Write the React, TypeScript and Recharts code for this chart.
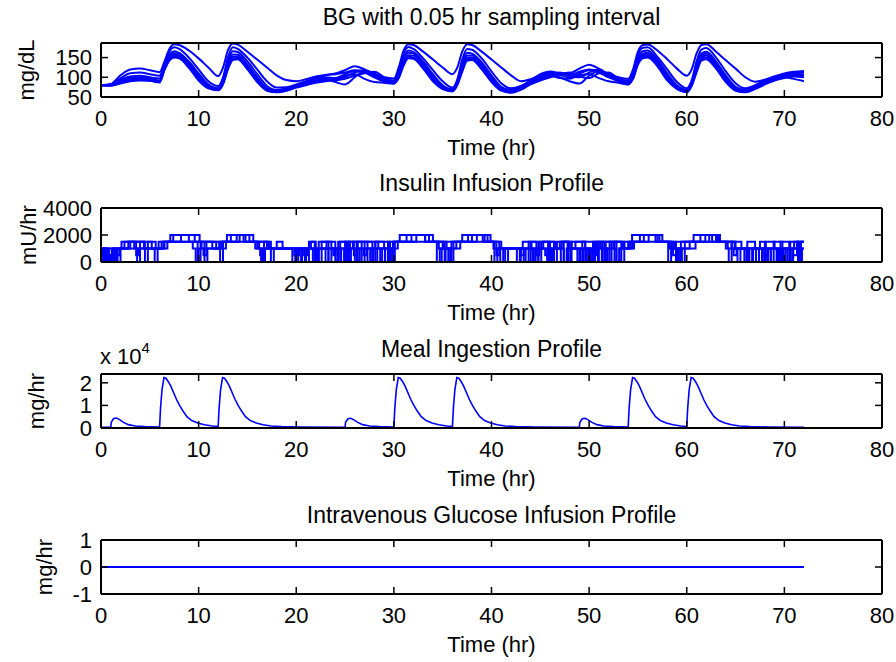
import React from 'react';
import { LineChart, Line, XAxis, YAxis } from 'recharts';

const FONT = '"Liberation Sans", Arial, Helvetica, sans-serif';
const BLUE = '#0000ff';

const timeTicks = [0, 10, 20, 30, 40, 50, 60, 70, 80];
const bgTicks = [50, 100, 150];
const insulinTicks = [0, 2000, 4000];
const mealTicks = [0, 10000, 20000];
const ivTicks = [-1, 0, 1];

// BG sampling grid (hr)
const bgTime = [
  0, 1, 2, 3, 4, 5, 6, 6.5, 7, 7.5, 8, 9, 10, 11, 12, 12.5, 13, 13.5, 14, 15, 16, 17, 18, 19, 20, 21, 22, 23,
  24, 25, 26, 27, 28, 29, 30, 30.5, 31, 31.5, 32, 33, 34, 35, 36, 36.5, 37, 37.5, 38, 39, 40, 41, 42, 43, 44, 45, 46, 47,
  48, 49, 50, 51, 52, 53, 54, 54.5, 55, 55.5, 56, 57, 58, 59, 60, 60.5, 61, 61.5, 62, 63, 64, 65, 66, 67, 68, 69, 70, 71,
  72,
];

const bg1 = [
  80, 83, 105, 120, 122, 118, 113, 140, 172, 184, 182, 168, 148, 125, 103, 125, 168, 186, 183, 165, 145, 125, 105, 93, 90, 95, 102, 106,
  110, 118, 128, 120, 108, 100, 97, 125, 168, 184, 182, 165, 145, 125, 108, 125, 165, 184, 182, 165, 145, 125, 105, 90, 95, 105, 112, 108,
  110, 122, 132, 122, 108, 100, 96, 120, 165, 182, 183, 168, 146, 122, 104, 120, 160, 182, 184, 165, 143, 122, 100, 89, 94, 102, 108, 112,
  114,
];
const bg2 = [
  80, 82, 98, 110, 112, 108, 104, 135, 165, 176, 172, 150, 120, 90, 78, 100, 150, 176, 172, 150, 120, 90, 74, 75, 82, 90, 98, 105,
  108, 112, 118, 115, 105, 95, 92, 118, 160, 177, 172, 148, 118, 90, 74, 95, 145, 172, 170, 148, 115, 85, 72, 78, 92, 108, 115, 110,
  106, 114, 120, 116, 104, 96, 92, 115, 158, 175, 176, 152, 120, 88, 72, 92, 140, 170, 174, 150, 115, 85, 72, 80, 92, 102, 110, 114,
  116,
];
const bg3 = [
  80, 81, 94, 102, 104, 100, 97, 130, 158, 166, 162, 140, 110, 82, 72, 92, 140, 166, 164, 140, 108, 78, 68, 72, 80, 88, 96, 100,
  98, 108, 116, 112, 100, 90, 88, 112, 150, 168, 164, 140, 108, 80, 70, 90, 135, 162, 160, 138, 105, 76, 68, 76, 90, 104, 112, 106,
  100, 110, 118, 112, 100, 92, 88, 110, 150, 166, 168, 145, 110, 80, 68, 88, 132, 160, 165, 140, 105, 76, 68, 78, 90, 100, 106, 110,
  112,
];
const bg4 = [
  80, 80, 90, 98, 100, 97, 92, 125, 152, 161, 158, 135, 104, 78, 70, 88, 132, 158, 157, 132, 100, 72, 65, 70, 78, 86, 92, 96,
  88, 82, 100, 116, 104, 92, 86, 108, 145, 162, 160, 135, 102, 76, 67, 86, 128, 155, 155, 132, 100, 72, 64, 74, 88, 100, 108, 100,
  90, 84, 104, 116, 102, 90, 85, 106, 145, 160, 162, 140, 105, 76, 65, 84, 126, 155, 160, 135, 100, 72, 65, 76, 88, 98, 104, 106,
  108,
];
const bg5 = [
  80, 80, 88, 95, 97, 95, 90, 122, 148, 157, 155, 132, 100, 75, 69, 86, 128, 152, 152, 128, 96, 70, 64, 68, 76, 84, 90, 94,
  96, 104, 108, 96, 88, 86, 84, 104, 140, 156, 155, 130, 98, 74, 66, 84, 122, 150, 150, 128, 96, 70, 63, 72, 86, 98, 104, 98,
  96, 106, 108, 98, 90, 86, 82, 102, 140, 156, 158, 136, 100, 74, 64, 82, 120, 150, 155, 130, 96, 70, 64, 74, 86, 96, 100, 96,
  90,
];
const bg6 = [
  80, 79, 86, 92, 94, 92, 88, 120, 145, 154, 152, 128, 96, 73, 68, 84, 124, 148, 149, 124, 92, 68, 63, 67, 75, 82, 88, 92,
  94, 100, 112, 118, 110, 96, 84, 100, 135, 152, 150, 125, 94, 72, 65, 82, 118, 146, 147, 124, 92, 68, 62, 70, 84, 95, 106, 112,
  104, 100, 112, 120, 106, 92, 82, 98, 136, 152, 154, 132, 96, 72, 63, 80, 116, 146, 150, 126, 92, 68, 63, 72, 84, 94, 102, 106,
  104,
];
const bg7 = [
  80, 79, 84, 90, 92, 91, 87, 118, 142, 150, 148, 124, 92, 72, 67, 82, 120, 144, 146, 120, 88, 66, 62, 66, 74, 80, 86, 90,
  92, 96, 104, 110, 114, 100, 86, 98, 130, 148, 147, 122, 90, 70, 64, 80, 114, 142, 144, 120, 88, 66, 61, 68, 82, 92, 100, 108,
  112, 102, 98, 110, 112, 96, 84, 96, 132, 148, 150, 128, 92, 70, 62, 78, 112, 142, 146, 122, 88, 66, 62, 70, 82, 92, 98, 102,
  100,
];
const bgSeries = [bg1, bg2, bg3, bg4, bg5, bg6, bg7];

// Insulin infusion (mU/hr), [time, rate] step change points
const insulin1: [number, number][] = [
  [0, 1000], [0.4, 0], [0.8, 1000], [1.3, 0], [1.7, 1000], [2.1, 1500], [4.4, 1000], [4.8, 1500], [5.6, 1000], [6.2, 1500],
  [7.1, 2000], [10.1, 1500], [11.4, 1000], [12.1, 1500], [12.9, 2000], [15.6, 1500], [17.2, 1000], [18.0, 1500], [18.6, 1000],
  [20.2, 0], [20.5, 1000], [21.3, 1500], [22.0, 0], [22.3, 1500], [23.6, 1000], [24.3, 1500], [25.1, 0], [25.4, 1500], [26.7, 0],
  [27.0, 1500], [28.4, 1000], [29.1, 0], [29.4, 1500], [30.6, 2000], [34.0, 1500], [35.1, 1000], [35.6, 0], [35.9, 1500],
  [37.0, 2000], [39.9, 1500], [40.8, 1000], [42.6, 0], [42.9, 1000], [43.8, 1500], [44.8, 0], [45.1, 1500], [46.4, 0], [46.7, 1500],
  [48.2, 1000], [49.0, 0], [49.3, 1500], [50.6, 0], [50.9, 1500], [52.3, 0], [52.6, 1500], [53.6, 1000], [54.4, 2000], [57.5, 1500],
  [58.4, 1000], [59.1, 0], [59.4, 1500], [60.7, 2000], [63.4, 1500], [64.6, 1000], [66.8, 0], [67.1, 1000], [68.6, 0], [68.9, 1500],
  [69.8, 0], [70.1, 1000], [70.9, 500], [71.3, 1500], [72, 1500],
];
const insulin2: [number, number][] = [
  [0, 1000], [0.2, 0], [0.5, 500], [0.9, 0], [1.2, 1000], [1.6, 0], [2.0, 1000], [3.0, 1500], [5.2, 1000], [5.5, 0], [5.8, 1000],
  [6.4, 1500], [8.2, 2000], [9.6, 1500], [9.9, 0], [10.2, 1500], [11.8, 1000], [12.2, 0], [12.5, 1500], [14.2, 2000], [15.2, 1500],
  [16.0, 1000], [16.4, 0], [16.7, 1500], [17.4, 1000], [20.0, 500], [20.3, 1000], [21.5, 1500], [21.9, 0], [22.2, 1000], [23.1, 1500],
  [24.0, 0], [24.3, 1000], [25.4, 1500], [25.9, 500], [26.2, 1500], [27.8, 0], [28.1, 1500], [29.0, 1000], [29.8, 0], [30.1, 1500],
  [31.8, 2000], [33.6, 1500], [34.4, 0], [34.7, 1000], [36.4, 1500], [38.0, 2000], [39.6, 1500], [40.3, 0], [40.6, 1000], [43.0, 0],
  [43.3, 1000], [44.1, 1500], [44.6, 500], [44.9, 1500], [45.8, 0], [46.1, 1000], [47.2, 1500], [47.9, 0], [48.2, 1500], [49.6, 1000],
  [50.1, 0], [50.4, 1500], [51.0, 0], [51.3, 1000], [52.5, 1500], [53.3, 0], [53.6, 1500], [55.6, 2000], [57.2, 1500], [58.1, 0],
  [58.4, 1000], [60.3, 1500], [61.9, 2000], [63.2, 1500], [64.0, 1000], [64.3, 0], [64.6, 1500], [65.6, 1000], [66.1, 0], [66.4, 1000],
  [67.5, 1500], [68.0, 0], [68.3, 1000], [69.3, 0], [69.6, 1500], [70.5, 0], [70.8, 1000], [71.5, 1500], [72, 1500],
];
const insulin3: [number, number][] = [
  [0, 0], [0.3, 1000], [0.7, 0], [1.1, 1000], [1.5, 500], [1.9, 1000], [4.0, 1500], [4.5, 0], [4.8, 1000], [6.5, 1500], [10.3, 1000],
  [10.6, 0], [10.9, 1000], [12.8, 1500], [16.2, 1000], [16.5, 0], [16.8, 1000], [20.6, 0], [20.9, 1000], [21.7, 0], [22.0, 1000],
  [23.0, 0], [23.3, 1000], [24.6, 0], [24.9, 1000], [25.8, 1500], [26.2, 0], [26.5, 1000], [27.6, 0], [27.9, 1000], [28.8, 0],
  [29.1, 1000], [30.4, 1500], [35.0, 1000], [35.3, 0], [35.6, 1000], [36.8, 1500], [40.5, 1000], [40.9, 0], [41.2, 1000], [43.5, 0],
  [43.8, 1000], [44.5, 0], [44.8, 1000], [45.7, 0], [46.0, 1500], [46.5, 1000], [47.4, 0], [47.7, 1000], [48.8, 0], [49.1, 1000],
  [50.0, 0], [50.3, 1000], [51.2, 1500], [51.6, 0], [51.9, 1000], [52.8, 0], [53.1, 1000], [54.6, 1500], [58.6, 1000], [58.9, 0],
  [59.2, 1000], [60.9, 1500], [64.9, 1000], [65.2, 0], [65.5, 1000], [67.4, 0], [67.7, 1000], [68.3, 0], [68.6, 1000], [69.4, 0],
  [69.7, 1000], [70.6, 0], [70.9, 1000], [71.6, 0], [71.8, 1000], [72, 1000],
];
const insulin4: [number, number][] = [
  [0, 1000], [0.6, 0], [0.9, 500], [1.2, 0], [1.5, 1000], [2.4, 1500], [3.4, 1000], [3.7, 0], [4.0, 1000], [5.9, 1500], [7.4, 2000],
  [9.0, 1500], [10.6, 1000], [12.3, 1500], [13.3, 2000], [14.8, 1500], [17.0, 1000], [17.4, 0], [17.7, 1000], [19.8, 500], [20.1, 1000],
  [21.0, 0], [21.3, 1000], [22.6, 1500], [23.3, 0], [23.6, 1000], [24.2, 0], [24.5, 1500], [25.5, 1000], [26.0, 0], [26.3, 1500],
  [27.3, 0], [27.6, 1000], [28.1, 1500], [29.6, 0], [29.9, 1500], [31.3, 2000], [33.2, 1500], [35.4, 1000], [35.8, 0], [36.1, 1500],
  [37.6, 2000], [39.1, 1500], [41.0, 1000], [41.4, 0], [41.7, 1000], [43.2, 1500], [44.0, 0], [44.3, 1000], [45.3, 1500], [45.9, 0],
  [46.2, 1000], [47.0, 1500], [47.8, 0], [48.1, 1000], [48.6, 1500], [49.6, 0], [49.9, 1000], [50.7, 1500], [51.4, 0], [51.7, 1500],
  [52.8, 0], [53.1, 1000], [54.0, 1500], [55.2, 2000], [56.8, 1500], [58.8, 1000], [59.5, 0], [59.8, 1500], [61.4, 2000], [62.6, 1500],
  [65.0, 1000], [65.9, 0], [66.2, 1500], [67.0, 1000], [67.8, 0], [68.1, 1500], [69.0, 1000], [69.2, 0], [69.5, 1000], [70.3, 0],
  [70.6, 1500], [71.4, 0], [71.7, 1500], [72, 1500],
];
const insulin5: [number, number][] = [
  [0, 1000], [0.1, 0], [0.4, 1000], [0.8, 500], [1.0, 0], [1.4, 1000], [2.8, 1500], [3.6, 500], [3.9, 1000], [6.8, 1500], [9.4, 1000],
  [9.7, 0], [10.0, 1000], [10.5, 500], [10.8, 1500], [13.9, 2000], [14.6, 1500], [15.8, 1000], [16.3, 500], [16.6, 1000], [19.6, 0],
  [19.9, 1000], [20.8, 500], [21.1, 1000], [22.3, 0], [22.6, 1000], [23.8, 500], [24.0, 1000], [25.0, 1500], [25.3, 0], [25.6, 1000],
  [26.9, 500], [27.2, 1000], [28.3, 0], [28.6, 1000], [30.0, 1500], [32.3, 2000], [33.2, 1500], [34.6, 1000], [34.9, 0], [35.2, 1500],
  [38.5, 2000], [39.3, 1500], [40.2, 1000], [40.5, 500], [40.8, 1000], [43.0, 500], [43.3, 1000], [44.2, 0], [44.5, 1000], [45.5, 500],
  [45.8, 1000], [47.1, 0], [47.4, 1500], [48.0, 1000], [49.4, 0], [49.7, 1000], [50.4, 500], [50.7, 1000], [51.8, 0], [52.1, 1500],
  [53.4, 1000], [54.2, 1500], [56.1, 2000], [57.0, 1500], [58.2, 1000], [58.6, 500], [58.9, 1500], [62.3, 2000], [63.0, 1500],
  [64.2, 1000], [64.8, 500], [65.1, 1000], [66.4, 0], [66.7, 1000], [68.0, 500], [68.3, 1000], [69.6, 0], [69.9, 1000], [71.0, 1500],
  [71.4, 0], [71.7, 1000], [72, 1000],
];
const insulinSeries = [insulin1, insulin2, insulin3, insulin4, insulin5];

// Meal ingestion (mg/hr), [time, rate]
const meal: [number, number][] = [
  [0, 300], [1.0, 300], [1.05, 2500], [1.3, 4200], [1.6, 4400], [1.9, 3700], [2.3, 2500], [2.8, 1500], [3.5, 900], [4.5, 600], [6.0, 400],
  [6.1, 9000], [6.25, 17000], [6.45, 22300], [6.65, 22000], [6.9, 20500], [7.15, 18500], [7.45, 15500], [7.75, 12500], [8.05, 10000],
  [8.4, 7500], [8.8, 5000], [9.3, 3300], [9.9, 2200], [10.6, 1400], [11.4, 900], [12.0, 600],
  [12.1, 9000], [12.25, 17000], [12.45, 22300], [12.65, 22000], [12.9, 20500], [13.15, 18500], [13.45, 15500], [13.75, 12500],
  [14.05, 10000], [14.4, 7500], [14.8, 5000], [15.3, 3300], [15.9, 2200], [16.6, 1400], [17.4, 900], [18.5, 600], [20.5, 400], [25.0, 300],
  [25.05, 2500], [25.3, 4100], [25.6, 4300], [25.9, 3600], [26.3, 2500], [26.8, 1500], [27.5, 900], [28.5, 600], [30.0, 400],
  [30.1, 9000], [30.25, 17000], [30.45, 22300], [30.65, 22000], [30.9, 20500], [31.15, 18500], [31.45, 15500], [31.75, 12500],
  [32.05, 10000], [32.4, 7500], [32.8, 5000], [33.3, 3300], [33.9, 2200], [34.6, 1400], [35.4, 900], [36.0, 600],
  [36.1, 9000], [36.25, 17000], [36.45, 22300], [36.65, 22000], [36.9, 20500], [37.15, 18500], [37.45, 15500], [37.75, 12500],
  [38.05, 10000], [38.4, 7500], [38.8, 5000], [39.3, 3300], [39.9, 2200], [40.6, 1400], [41.4, 900], [42.5, 600], [44.5, 400], [49.0, 300],
  [49.05, 2500], [49.3, 4100], [49.6, 4300], [49.9, 3600], [50.3, 2500], [50.8, 1500], [51.5, 900], [52.5, 600], [54.0, 400],
  [54.1, 9000], [54.25, 17000], [54.45, 22300], [54.65, 22000], [54.9, 20500], [55.15, 18500], [55.45, 15500], [55.75, 12500],
  [56.05, 10000], [56.4, 7500], [56.8, 5000], [57.3, 3300], [57.9, 2200], [58.6, 1400], [59.4, 900], [60.0, 600],
  [60.1, 9000], [60.25, 17000], [60.45, 22300], [60.65, 22000], [60.9, 20500], [61.15, 18500], [61.45, 15500], [61.75, 12500],
  [62.05, 10000], [62.4, 7500], [62.8, 5000], [63.3, 3300], [63.9, 2200], [64.6, 1400], [65.4, 900], [66.5, 600], [68.5, 400], [72, 300],
];

// Intravenous glucose infusion (mg/hr)
const ivGlucose: [number, number][] = [[0, 0], [72, 0]];

const toRows = (pairs: [number, number][]) => pairs.map(([t, v]) => ({ t, v }));
const bgRows = bgTime.map((t, i) => {
  const row: Record<string, number> = { t };
  bgSeries.forEach((s, k) => {
    row['b' + k] = s[i];
  });
  return row;
});

const axisLine = { stroke: '#000', strokeWidth: 2 };
const tickLine = { stroke: '#000', strokeWidth: 1.5 };
const tickStyle = { fill: '#000', fontSize: 22, fontFamily: FONT };
const blank = () => '';

const TOP_PAD = 14;

type PanelProps = {
  top: number;
  yDomain: [number, number];
  yTicks: number[];
  yFormat?: (v: number) => string;
  data?: any[];
  children: React.ReactNode;
};

function Panel({ top, yDomain, yTicks, yFormat, data, children }: PanelProps) {
  return (
    <div style={{ position: 'absolute', left: 0, top: top - TOP_PAD }}>
      <LineChart width={896} height={99 + TOP_PAD} data={data} margin={{ top: TOP_PAD - 1, right: 13, bottom: 0, left: 0 }}>
        <XAxis
          xAxisId="b"
          orientation="bottom"
          type="number"
          dataKey="t"
          domain={[0, 80]}
          ticks={timeTicks}
          interval={0}
          allowDataOverflow
          height={45}
          tickSize={-7}
          tickMargin={20}
          axisLine={axisLine}
          tickLine={tickLine}
          tick={tickStyle}
        />
        <XAxis
          xAxisId="t"
          orientation="top"
          type="number"
          dataKey="t"
          domain={[0, 80]}
          ticks={timeTicks}
          interval={0}
          allowDataOverflow
          height={1}
          tickSize={-7}
          tickFormatter={blank}
          axisLine={axisLine}
          tickLine={tickLine}
          tick={tickStyle}
        />
        <YAxis
          yAxisId="l"
          orientation="left"
          type="number"
          domain={yDomain}
          ticks={yTicks}
          interval={0}
          allowDataOverflow
          width={101}
          tickSize={-7}
          tickMargin={16}
          tickFormatter={yFormat}
          axisLine={axisLine}
          tickLine={tickLine}
          tick={tickStyle}
        />
        <YAxis
          yAxisId="r"
          orientation="right"
          type="number"
          domain={yDomain}
          ticks={yTicks}
          interval={0}
          allowDataOverflow
          width={1}
          tickSize={-7}
          tickFormatter={blank}
          axisLine={axisLine}
          tickLine={tickLine}
          tick={tickStyle}
        />
        {children}
      </LineChart>
    </div>
  );
}

const PLOT_CX = 491.5;

export default function App() {
  const tops = [43, 208, 374, 540];
  const bottoms = tops.map((t) => t + 54);
  const txt = { fontFamily: FONT, fontSize: 22, fill: '#000' } as const;
  const ttl = { fontFamily: FONT, fontSize: 23, fill: '#000' } as const;
  return (
    <div style={{ position: 'absolute', left: 0, top: 0, width: 896, height: 662, background: '#fff' }}>
      <Panel top={tops[0]} yDomain={[50, 187]} yTicks={bgTicks} data={bgRows}>
        {bgSeries.map((_, k) => (
          <Line
            key={k}
            xAxisId="b"
            yAxisId="l"
            type="monotone"
            dataKey={'b' + k}
            stroke={BLUE}
            strokeWidth={2}
            dot={false}
            activeDot={false}
            isAnimationActive={false}
          />
        ))}
      </Panel>
      <Panel top={tops[1]} yDomain={[0, 4000]} yTicks={insulinTicks}>
        {insulinSeries.map((s, k) => (
          <Line
            key={k}
            xAxisId="b"
            yAxisId="l"
            type="stepAfter"
            data={toRows(s)}
            dataKey="v"
            stroke={BLUE}
            strokeWidth={2}
            dot={false}
            activeDot={false}
            isAnimationActive={false}
          />
        ))}
      </Panel>
      <Panel top={tops[2]} yDomain={[0, 23900]} yTicks={mealTicks} yFormat={(v) => String(v / 10000)}>
        <Line
          xAxisId="b"
          yAxisId="l"
          type="linear"
          data={toRows(meal)}
          dataKey="v"
          stroke={BLUE}
          strokeWidth={1.6}
          dot={false}
          activeDot={false}
          isAnimationActive={false}
        />
      </Panel>
      <Panel top={tops[3]} yDomain={[-1, 1]} yTicks={ivTicks}>
        <Line
          xAxisId="b"
          yAxisId="l"
          type="linear"
          data={toRows(ivGlucose)}
          dataKey="v"
          stroke={BLUE}
          strokeWidth={2}
          dot={false}
          activeDot={false}
          isAnimationActive={false}
        />
      </Panel>
      <svg
        width={896}
        height={662}
        style={{ position: 'absolute', left: 0, top: 0, pointerEvents: 'none' }}
      >
        <text x={PLOT_CX} y={tops[0] - 18} textAnchor="middle" {...ttl}>BG with 0.05 hr sampling interval</text>
        <text x={PLOT_CX} y={tops[1] - 17} textAnchor="middle" {...ttl}>Insulin Infusion Profile</text>
        <text x={PLOT_CX} y={tops[2] - 17} textAnchor="middle" {...ttl}>Meal Ingestion Profile</text>
        <text x={PLOT_CX} y={tops[3] - 17} textAnchor="middle" {...ttl}>Intravenous Glucose Infusion Profile</text>
        {bottoms.map((b, i) => (
          <text key={i} x={PLOT_CX} y={b + 58} textAnchor="middle" {...txt}>Time (hr)</text>
        ))}
        <text x={34} y={tops[0] + 27} textAnchor="middle" transform={`rotate(-90 34 ${tops[0] + 27})`} {...txt}>mg/dL</text>
        <text x={36} y={tops[1] + 27} textAnchor="middle" transform={`rotate(-90 36 ${tops[1] + 27})`} {...txt}>mU/hr</text>
        <text x={44} y={tops[2] + 27} textAnchor="middle" transform={`rotate(-90 44 ${tops[2] + 27})`} {...txt}>mg/hr</text>
        <text x={52} y={tops[3] + 27} textAnchor="middle" transform={`rotate(-90 52 ${tops[3] + 27})`} {...txt}>mg/hr</text>
        <text x={100} y={364} {...txt}>
          x 10<tspan fontSize={15} dy={-11}>4</tspan>
        </text>
      </svg>
    </div>
  );
}
